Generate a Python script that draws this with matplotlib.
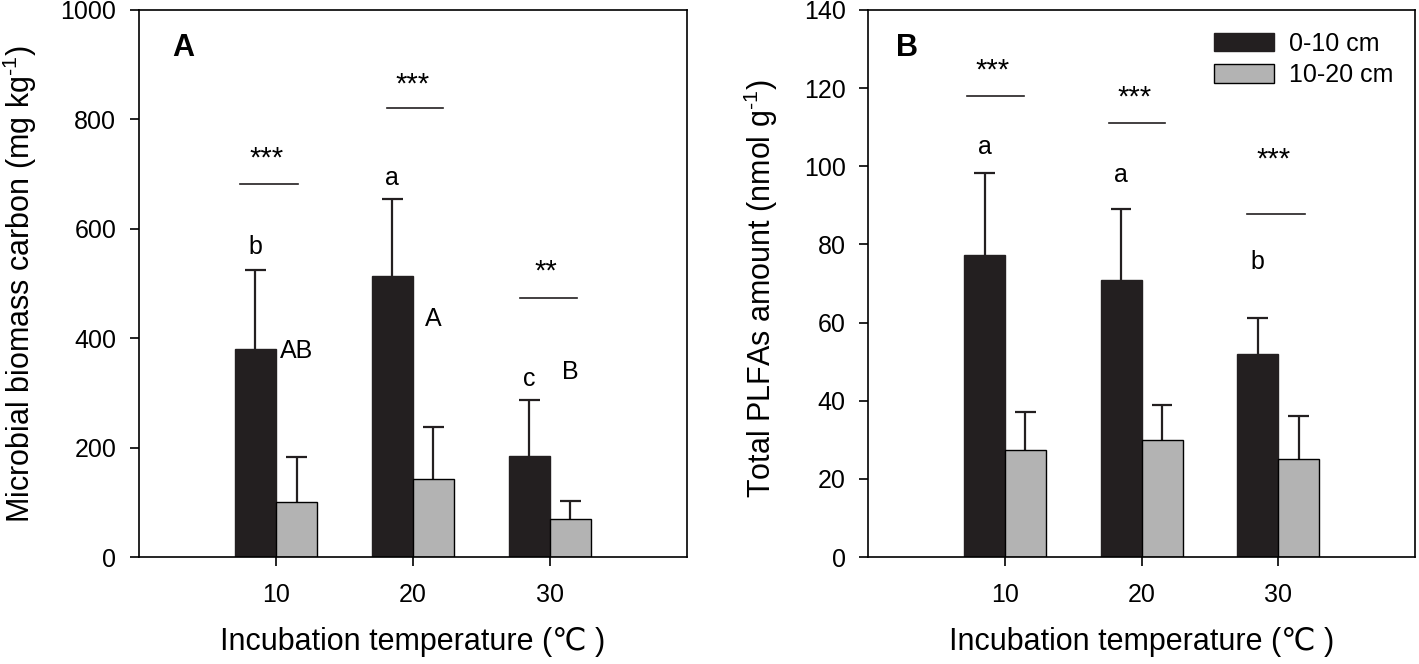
import matplotlib
matplotlib.use("Agg")
import matplotlib.pyplot as plt
import numpy as np

plt.rcParams['font.family'] = ['Liberation Sans', 'DejaVu Sans']
plt.rcParams['mathtext.fontset'] = 'custom'
plt.rcParams['mathtext.rm'] = 'Liberation Sans'
plt.rcParams['mathtext.default'] = 'regular'

temps = [10, 20, 30]
depths = ['0-10 cm', '10-20 cm']

# panel A - microbial biomass carbon
mbc_top = [380, 513, 185]
mbc_top_err = [525, 655, 287]      # upper end of error bar
mbc_sub = [100, 142, 70]
mbc_sub_err = [183, 238, 103]
mbc_letters_top = ['b', 'a', 'c']
mbc_letters_top_y = [567, 693, 325]
mbc_letters_sub = ['AB', 'A', 'B']
mbc_letters_sub_y = [377, 435, 338]
mbc_sig = ['***', '***', '**']
mbc_sig_y = [729, 863, 521]
mbc_line_y = [682, 821, 473]
mbc_line_x = [(7.4, 11.6), (18.1, 22.2), (27.8, 32.0)]

# panel B - total PLFAs
plfa_top = [77.3, 71, 52]
plfa_top_err = [98.3, 89, 61.2]
plfa_sub = [27.5, 30, 25]
plfa_sub_err = [37, 39, 36]
plfa_letters_top = ['a', 'a', 'b']
plfa_letters_top_y = [105, 97.8, 75.5]
plfa_sig = ['***', '***', '***']
plfa_sig_y = [124.6, 117.5, 101.6]
plfa_line_y = [118, 111, 87.8]
plfa_line_x = [(7.2, 11.4), (17.6, 21.7), (27.7, 32.0)]

dark = '#231f20'
grey = '#b3b3b3'
w = 3.0
cap = 0.75

fig = plt.figure(figsize=(14.19, 6.64), dpi=100)
axA = fig.add_axes([0.098, 0.161, 0.386, 0.824])
axB = fig.add_axes([0.612, 0.161, 0.385, 0.824])


def draw(ax, top, top_err, sub, sub_err, ymax, ystep):
    x = np.array(temps, dtype=float)
    ax.bar(x - w / 2, top, w, color=dark, edgecolor=dark, linewidth=1, label=depths[0], zorder=2)
    ax.bar(x + w / 2, sub, w, color=grey, edgecolor='black', linewidth=1, label=depths[1], zorder=2)
    # upper error bars only
    for xs, lo, hi in [(x - w / 2, top, top_err), (x + w / 2, sub, sub_err)]:
        ax.vlines(xs, lo, hi, color=dark, lw=1.6, zorder=1)
        ax.hlines(hi, xs - cap, xs + cap, color=dark, lw=1.6, zorder=1)
    ax.set_xlim(0, 40)
    ax.set_ylim(0, ymax)
    ax.set_xticks(temps)
    ax.set_yticks(np.arange(0, ymax + 1, ystep))
    ax.tick_params(direction='out', length=6.5, width=1.2, labelsize=18)
    ax.tick_params(axis='y', pad=10)
    ax.tick_params(axis='x', pad=12)
    for s in ax.spines.values():
        s.set_linewidth(1.2)
    ax.set_xlabel('Incubation temperature (℃ )', fontsize=22)
    ax.xaxis.set_label_coords(0.5, -0.128)


draw(axA, mbc_top, mbc_top_err, mbc_sub, mbc_sub_err, 1000, 200)
draw(axB, plfa_top, plfa_top_err, plfa_sub, plfa_sub_err, 140, 20)

axA.set_ylabel('Microbial biomass carbon (mg kg$^{‐1}$)', fontsize=22)
axA.yaxis.set_label_coords(-0.183, 0.5)
axB.set_ylabel('Total PLFAs amount (nmol g$^{‐1}$)', fontsize=22)
axB.yaxis.set_label_coords(-0.162, 0.49)

for i, t in enumerate(temps):
    axA.text(t - w / 2, mbc_letters_top_y[i], mbc_letters_top[i], ha='center', va='center', fontsize=18)
    axA.text(t + w / 2, mbc_letters_sub_y[i], mbc_letters_sub[i], ha='center', va='center', fontsize=18)
    axA.text(sum(mbc_line_x[i]) / 2 - 0.2, mbc_sig_y[i], mbc_sig[i], ha='center', va='center', fontsize=21)
    axA.plot(mbc_line_x[i], [mbc_line_y[i]] * 2, color=dark, lw=1.2)
    axB.text(t - w / 2, plfa_letters_top_y[i], plfa_letters_top[i], ha='center', va='center', fontsize=18)
    axB.text(sum(plfa_line_x[i]) / 2 - 0.2, plfa_sig_y[i], plfa_sig[i], ha='center', va='center', fontsize=21)
    axB.plot(plfa_line_x[i], [plfa_line_y[i]] * 2, color=dark, lw=1.2)

axA.text(0.08, 0.93, 'A', transform=axA.transAxes, fontsize=22, fontweight='bold', ha='center', va='center')
axB.text(0.071, 0.93, 'B', transform=axB.transAxes, fontsize=22, fontweight='bold', ha='center', va='center')

axB.legend(loc='upper right', bbox_to_anchor=(0.99, 0.99), borderaxespad=0.25, frameon=False, fontsize=18,
           handlelength=2.4, handleheight=0.75, handletextpad=0.6, labelspacing=0.3)

fig.savefig('out.png', dpi=100)
